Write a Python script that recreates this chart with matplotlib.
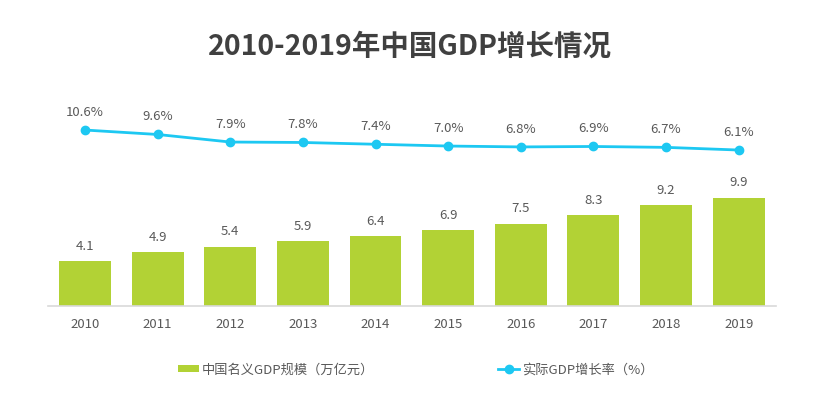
import matplotlib
matplotlib.use("Agg")
import matplotlib.pyplot as plt
from matplotlib.lines import Line2D
from matplotlib.patches import Patch

plt.rcParams['font.family'] = ['Noto Sans CJK SC', 'DejaVu Sans']

years = ['2010', '2011', '2012', '2013', '2014', '2015', '2016', '2017', '2018', '2019']
gdp = [4.1, 4.9, 5.4, 5.9, 6.4, 6.9, 7.5, 8.3, 9.2, 9.9]
growth = [10.6, 9.6, 7.9, 7.8, 7.4, 7.0, 6.8, 6.9, 6.7, 6.1]
title = '2010-2019年中国GDP增长情况'
bar_name = '中国名义GDP规模（万亿元）'
line_name = '实际GDP增长率（%）'

bar_color = '#B2D235'
line_color = '#1DC8F2'
text_color = '#595959'

fig = plt.figure(figsize=(8.2, 4.0), dpi=100)
ax = fig.add_axes([0.0585, 0.235, 0.8875, 0.515])
x = list(range(len(years)))
ax.bar(x, gdp, width=0.715, color=bar_color, zorder=2)
ax.set_xlim(-0.51, 9.51)
ax.set_ylim(0, 18.8)
for xi, v in zip(x, gdp):
    ax.annotate(f'{v:.1f}', (xi, v), xytext=(0, 6), textcoords='offset points',
                ha='center', va='bottom', fontsize=9.5, color=text_color)
for s in ['top', 'right', 'left']:
    ax.spines[s].set_visible(False)
ax.spines['bottom'].set_color('#D9D9D9')
ax.spines['bottom'].set_linewidth(1.2)
ax.set_yticks([])
ax.set_xticks(x)
ax.set_xticklabels(years, fontsize=9.5, color=text_color)
ax.tick_params(axis='x', length=0, pad=9)

ax2 = ax.twinx()
ax2.plot(x, growth, color=line_color, lw=2, marker='o', markersize=6, zorder=3)
ax2.set_ylim(-29.0, 17.36)
ax2.set_yticks([])
for s in ['top', 'right', 'left', 'bottom']:
    ax2.spines[s].set_visible(False)
for xi, v in zip(x, growth):
    ax2.annotate(f'{v:.1f}%', (xi, v), xytext=(0, 8), textcoords='offset points',
                 ha='center', va='bottom', fontsize=9.5, color=text_color)

fig.text(0.5, 0.883, title, ha='center', va='center', fontsize=20.5,
         fontweight='bold', color='#404040')

handles = [Patch(facecolor=bar_color, edgecolor='none'),
           Line2D([0], [0], color=line_color, lw=2, marker='o', markersize=6)]
fig.legend(handles[:1], [bar_name], loc='center left', bbox_to_anchor=(0.203, 0.075),
           frameon=False, fontsize=9.5, labelcolor=text_color, handlelength=1.6,
           handleheight=0.4, handletextpad=0.2)
fig.legend(handles[1:], [line_name], loc='center left', bbox_to_anchor=(0.593, 0.075),
           frameon=False, fontsize=9.5, labelcolor=text_color, handlelength=1.6,
           handletextpad=0.2)

fig.savefig('out.png', dpi=100)
